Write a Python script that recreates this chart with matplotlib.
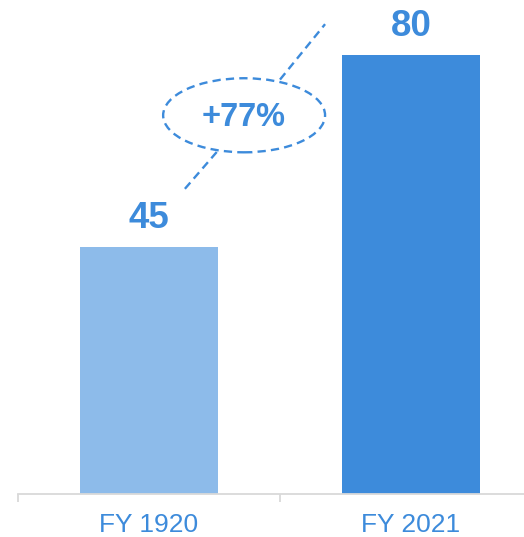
import matplotlib.pyplot as plt
from matplotlib.patches import Ellipse

categories = ['FY 1920', 'FY 2021']
values = [45, 80]
bar_colors = ['#8DBBEA', '#3D8BDB']
growth_label = '+77%'

plt.rcParams['font.family'] = ['Liberation Sans', 'DejaVu Sans']
txt_color = '#3D8BDB'

fig = plt.figure(figsize=(5.24, 5.37), dpi=100)
ax = fig.add_axes([18 / 524, 43 / 537, 1 - 18 / 524, 1 - 43 / 537])

x = list(range(len(categories)))
ax.bar(x, values, width=0.527, color=bar_colors)

for xi, v in zip(x, values):
    ax.text(xi, v + 3.4, str(v), ha='center', va='baseline', fontsize=26.5,
            fontweight='bold', color=txt_color)

# growth annotation: dashed line through a dashed ellipse
ls = (0, (3.5, 2.2))
lw = 1.7
ax.plot([0.137, 0.262], [55.6, 62.5], color=txt_color, lw=lw, ls=ls, clip_on=False)
ax.plot([0.50, 0.672], [75.5, 85.6], color=txt_color, lw=lw, ls=ls, clip_on=False)
ax.add_patch(Ellipse((0.363, 69.0), 0.618, 13.5, fill=False, edgecolor=txt_color,
                     lw=lw, ls=ls, clip_on=False))
ax.text(0.363, 68.6, growth_label, ha='center', va='center', fontsize=23.5,
        fontweight='bold', color=txt_color)

for s in ['top', 'right', 'left']:
    ax.spines[s].set_visible(False)
ax.spines['bottom'].set_color('#D9D9D9')
ax.spines['bottom'].set_linewidth(1.3)
ax.set_yticks([])
ax.set_xticks(x)
ax.set_xticklabels(categories, fontsize=19, color=txt_color)
ax.tick_params(axis='x', which='major', length=0, pad=14)
ax.set_xticks([-0.5, 0.5], minor=True)
ax.tick_params(axis='x', which='minor', length=6, color='#D9D9D9', width=1.3)

ax.set_xlim(-0.5, 0.5 + (524 - 280) / 262)
ax.set_ylim(0, 90)

fig.savefig('out.png', dpi=100)
